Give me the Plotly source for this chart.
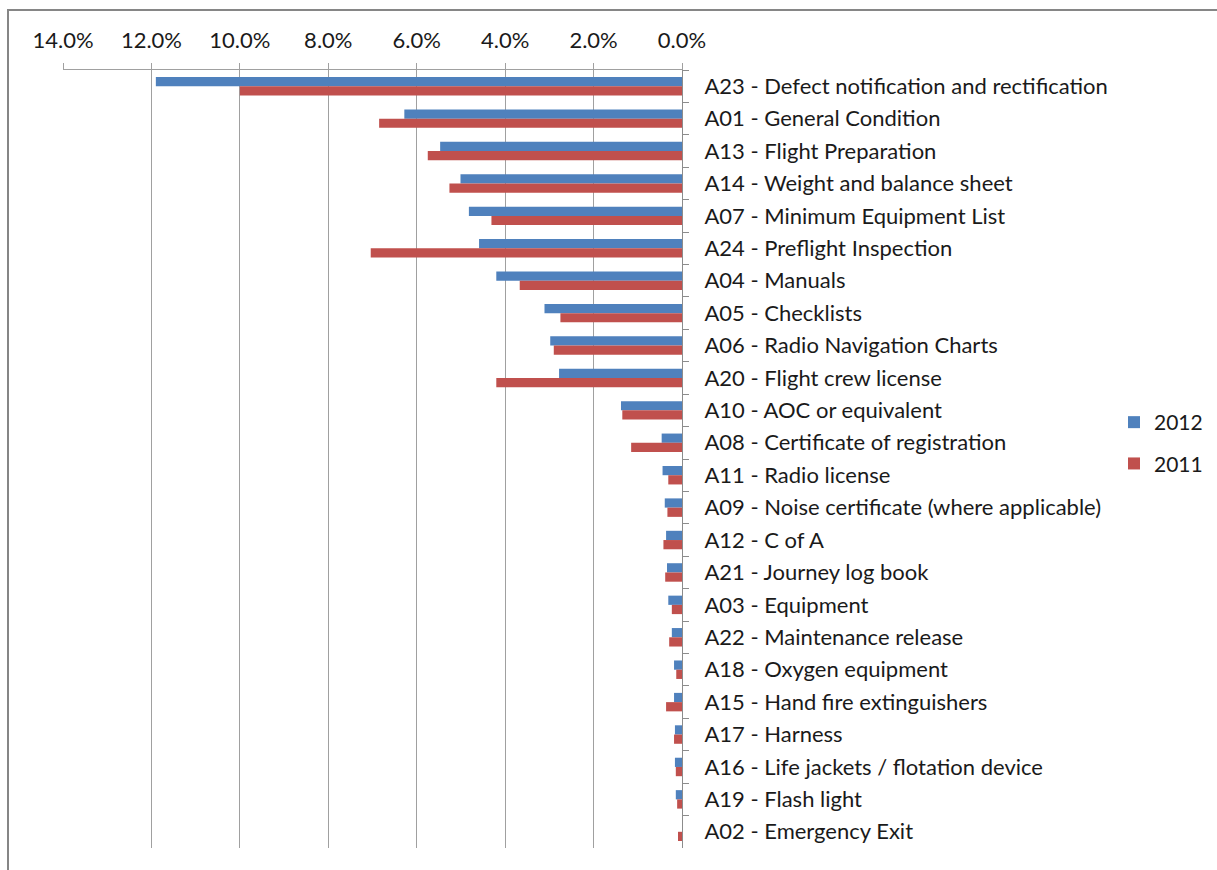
import plotly.graph_objects as go

categories = [
    "A23 - Defect notification and rectification",
    "A01 - General Condition",
    "A13 - Flight Preparation",
    "A14 - Weight and balance sheet",
    "A07 - Minimum Equipment List",
    "A24 - Preflight Inspection",
    "A04 - Manuals",
    "A05 - Checklists",
    "A06 - Radio Navigation Charts",
    "A20 - Flight crew license",
    "A10 - AOC or equivalent",
    "A08 - Certificate of registration",
    "A11 - Radio license",
    "A09 - Noise certificate (where applicable)",
    "A12 - C of A",
    "A21 - Journey log book",
    "A03 - Equipment",
    "A22 - Maintenance release",
    "A18 - Oxygen equipment",
    "A15 - Hand fire extinguishers",
    "A17 - Harness",
    "A16 - Life jackets / flotation device",
    "A19 - Flash light",
    "A02 - Emergency Exit",
]

values_2012 = [11.9, 6.28, 5.47, 5.01, 4.82, 4.59, 4.20, 3.11, 2.98, 2.78, 1.38, 0.46,
               0.44, 0.39, 0.36, 0.34, 0.31, 0.23, 0.18, 0.18, 0.16, 0.16, 0.14, 0.0]
values_2011 = [10.0, 6.85, 5.75, 5.26, 4.31, 7.04, 3.67, 2.75, 2.90, 4.20, 1.35, 1.15,
               0.31, 0.33, 0.42, 0.38, 0.23, 0.29, 0.13, 0.36, 0.18, 0.14, 0.11, 0.09]

tick_values = [0, 2, 4, 6, 8, 10, 12, 14]
tick_labels = ["0.0%", "2.0%", "4.0%", "6.0%", "8.0%", "10.0%", "12.0%", "14.0%"]

FONT = "Lato"
TEXT = "#1a1a1a"
GRID = "#a0a0a0"
SIZE = 22

fig = go.Figure()
fig.add_trace(go.Bar(
    y=categories, x=values_2012, orientation="h", name="2012",
    marker=dict(color="#4F81BD", line=dict(width=0)), legendgroup="a",
))
fig.add_trace(go.Bar(
    y=categories, x=values_2011, orientation="h", name="2011",
    marker=dict(color="#C0504D", line=dict(width=0)), legendgroup="b",
))

fig.update_layout(
    width=1217, height=870,
    margin=dict(l=63, r=535, t=70, b=22, autoexpand=False),
    paper_bgcolor="white", plot_bgcolor="white",
    barmode="group", bargap=0.43, bargroupgap=0,
    font=dict(family=FONT, size=SIZE, color=TEXT),
    showlegend=True,
    legend=dict(
        xref="container", yref="container",
        x=1114 / 1217, xanchor="left", y=1 - 443 / 870, yanchor="middle",
        font=dict(family=FONT, size=21, color=TEXT),
        tracegroupgap=11, bgcolor="rgba(0,0,0,0)",
    ),
    xaxis=dict(
        side="top", range=[14, 0], tickmode="array",
        tickvals=tick_values, ticktext=tick_labels,
        showgrid=True, gridcolor=GRID, gridwidth=1,
        zeroline=False, automargin=False,
        showline=True, linecolor=GRID, linewidth=1,
        ticks="outside", ticklen=6, tickcolor=GRID,
        ticklabelstandoff=6,
        tickfont=dict(family=FONT, size=SIZE, color=TEXT),
    ),
    yaxis=dict(
        side="right", autorange="reversed", type="category",
        showgrid=False, zeroline=False, automargin=False,
        showline=True, linecolor="#8c8c8c", linewidth=1,
        ticks="outside", ticklen=6, tickcolor="#8c8c8c", tickson="boundaries",
        ticklabelstandoff=17,
        tickfont=dict(family=FONT, size=SIZE, color=TEXT),
    ),
    shapes=[dict(
        type="rect", xref="paper", yref="paper",
        x0=(8 - 63) / 619, x1=(1260 - 63) / 619,
        y0=-0.2, y1=(848 - 10) / 778,
        line=dict(color="#868686", width=2), fillcolor="rgba(0,0,0,0)", layer="below",
    )],
)

fig.write_html("out.html", config={"displayModeBar": False},
               post_script="document.body.style.margin='0';")
